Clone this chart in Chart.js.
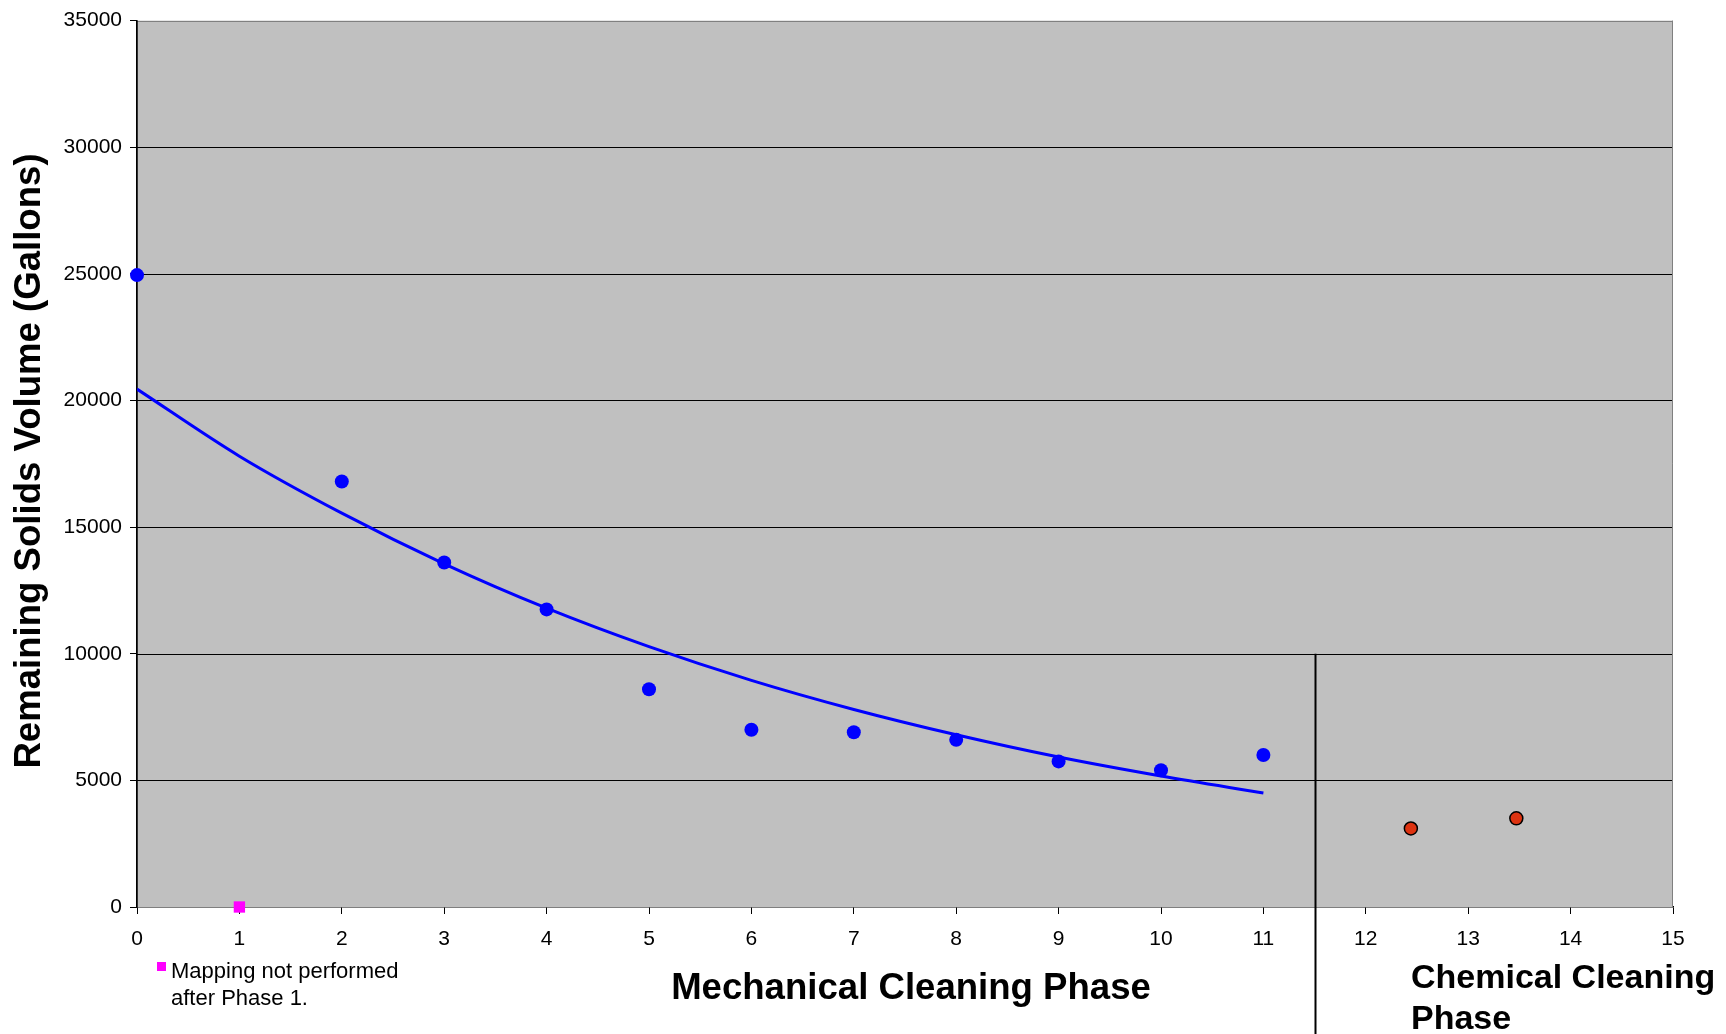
<!DOCTYPE html>
<html>
<head>
<meta charset="utf-8">
<script src="https://cdn.jsdelivr.net/npm/chart.js@4/dist/chart.umd.min.js"></script>
<style>
body{margin:0;background:#fff;}
</style>
</head>
<body>
<canvas id="solids" width="1726" height="1034"></canvas>
<script>
// measured phases (mechanical cleaning)
var phaseX=[0,2,3,4,5,6,7,8,9,10,11];
var volumeY=[24950,16800,13600,11750,8600,7000,6900,6600,5750,5400,6000];
// phase 1 - no mapping
var noMapX=[1];
var noMapY=[0];
// chemical cleaning phase
var chemX=[12.44,13.47];
var chemY=[3100,3500];
// trend line
var trendX=[0,1,2,3,4,5,6,7,8,9,10,11];
var trendY=[20450,17800,15550,13550,11800,10280,8950,7800,6800,5920,5170,4500];
// divider between phases
var dividerX=11.5;
var dividerTop=10000;

var yTitle="Remaining Solids Volume (Gallons)";
var mechTitle="Mechanical Cleaning Phase";
var chemTitle=["Chemical Cleaning","Phase"];
var noteText=["Mapping not performed","after Phase 1."];

var FONT='"Liberation Sans", Arial, sans-serif';

function pts(xs,ys){
  var out=[];
  for(let i=0;i<xs.length;i++){out.push({x:xs[i],y:ys[i]});}
  return out;
}

var extras={
  id:'extras',
  beforeDatasetsDraw:function(chart){
    var a=chart.chartArea, c=chart.ctx;
    c.save();
    c.fillStyle='#c0c0c0';
    c.fillRect(a.left,a.top,a.right-a.left,a.bottom-a.top);
    c.restore();
    // grid lines over the background
    var ys=chart.scales.y;
    c.save();
    c.lineWidth=1;
    ys.ticks.forEach(function(t){
      if(t.value===0) return;
      var py=Math.round(ys.getPixelForValue(t.value))+0.5;
      c.strokeStyle=t.value===35000?'#808080':'#000';
      c.beginPath();c.moveTo(a.left,py);c.lineTo(a.right,py);c.stroke();
    });
    c.strokeStyle='#808080';
    c.beginPath();c.moveTo(a.right-0.5,a.top);c.lineTo(a.right-0.5,a.bottom);c.stroke();
    // left axis line back on top of the fill
    c.strokeStyle='#000';c.lineWidth=1.5;
    c.beginPath();c.moveTo(a.left,a.top);c.lineTo(a.left,a.bottom);c.stroke();
    c.restore();
  },
  afterDraw:function(chart){
    var c=chart.ctx, xs=chart.scales.x, ys=chart.scales.y;
    c.save();
    // divider
    var dx=Math.round(xs.getPixelForValue(dividerX))+0.5;
    c.strokeStyle='#000';
    c.lineWidth=2;
    c.beginPath();
    c.moveTo(dx,ys.getPixelForValue(dividerTop));
    c.lineTo(dx,chart.height);
    c.stroke();
    c.fillStyle='#000';
    // y title
    c.save();
    c.translate(30,461);
    c.rotate(-Math.PI/2);
    c.font='bold 36.6px '+FONT;
    c.textAlign='center';c.textBaseline='middle';
    c.fillText(yTitle,0,0);
    c.restore();
    // x titles
    c.font='bold 36.6px '+FONT;
    c.textAlign='center';c.textBaseline='middle';
    c.fillText(mechTitle,911,989);
    c.font='bold 34px '+FONT;
    c.textAlign='left';
    c.fillText(chemTitle[0],1411,979);
    c.fillText(chemTitle[1],1411,1020);
    // note
    c.fillStyle='#ff00ff';
    c.fillRect(157,962,9,9);
    c.fillStyle='#000';
    c.font='22px '+FONT;
    c.fillText(noteText[0],171,972);
    c.fillText(noteText[1],171,999);
    c.restore();
  }
};

var ctx=document.getElementById("solids");
var solidsChart=new Chart(ctx,{
  type:'scatter',
  data:{
    datasets:[{
      label:'Mechanical',
      data:pts(phaseX,volumeY),
      backgroundColor:'#0000ff',
      borderWidth:0,
      pointRadius:7,
      clip:false,
      order:1
    },{
      label:'No mapping',
      data:pts(noMapX,noMapY),
      pointStyle:'rect',
      backgroundColor:'#ff00ff',
      borderWidth:0,
      pointRadius:8,
      clip:false,
      order:0
    },{
      label:'Chemical',
      data:pts(chemX,chemY),
      backgroundColor:'#dd3311',
      borderColor:'#000',
      borderWidth:1.5,
      pointRadius:6.5,
      order:1
    },{
      label:'Trend',
      data:pts(trendX,trendY),
      showLine:true,
      borderColor:'#0000ff',
      borderWidth:3,
      pointRadius:0,
      cubicInterpolationMode:'monotone',
      order:2
    }]
  },
  options:{
    responsive:false,
    animation:false,
    devicePixelRatio:1,
    layout:{padding:{top:15,right:53,left:0,bottom:0}},
    plugins:{legend:{display:false},tooltip:{enabled:false}},
    scales:{
      x:{
        type:'linear',min:0,max:15,
        afterFit:function(s){s.height=127;},
        ticks:{stepSize:1,color:'#000',padding:13,font:{family:FONT,size:21}},
        grid:{drawOnChartArea:false,drawTicks:true,tickLength:7,color:'#000'},
        border:{color:'#000',width:1.5}
      },
      y:{
        min:0,max:35000,
        afterFit:function(s){s.width=137;},
        ticks:{stepSize:5000,color:'#000',padding:8,font:{family:FONT,size:21},
          callback:function(v){return String(v);}},
        grid:{drawOnChartArea:false,drawTicks:true,tickLength:7,color:'#000'},
        border:{color:'#000',width:1.5}
      }
    }
  },
  plugins:[extras]
});
</script>
</body>
</html>
